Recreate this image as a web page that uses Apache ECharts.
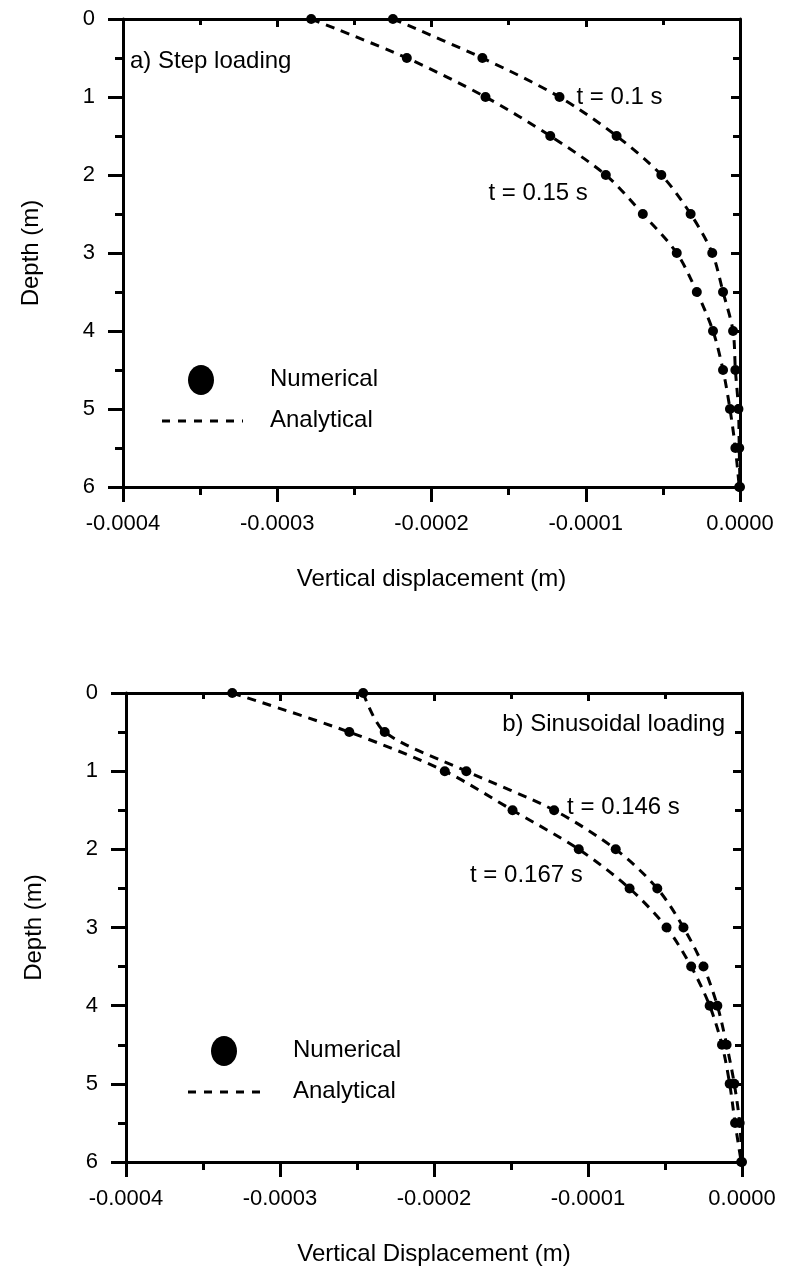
<!DOCTYPE html>
<html>
<head>
<meta charset="utf-8">
<script src="https://cdn.jsdelivr.net/npm/echarts@6/dist/echarts.min.js"></script>
<style>
  html, body { margin: 0; padding: 0; background: #fff; }
  #chart { width: 787px; height: 1278px; }
</style>
</head>
<body>
<div id="chart"></div>
<script>
// depth of the sample points (m)
var depth = [0, 0.5, 1, 1.5, 2, 2.5, 3, 3.5, 4, 4.5, 5, 5.5, 6];

// a) step loading, vertical displacement (m)
var stepT010 = [-2.25e-4, -1.67e-4, -1.17e-4, -0.80e-4, -0.51e-4, -0.32e-4, -0.18e-4, -0.11e-4, -0.045e-4, -0.03e-4, -0.01e-4, -0.005e-4, 0];
var stepT015 = [-2.78e-4, -2.16e-4, -1.65e-4, -1.23e-4, -0.87e-4, -0.63e-4, -0.41e-4, -0.28e-4, -0.175e-4, -0.11e-4, -0.065e-4, -0.03e-4, -0.005e-4];

// b) sinusoidal loading
var sinT0146 = [-2.46e-4, -2.32e-4, -1.79e-4, -1.22e-4, -0.82e-4, -0.55e-4, -0.38e-4, -0.25e-4, -0.16e-4, -0.10e-4, -0.05e-4, -0.015e-4, 0];
var sinT0167 = [-3.31e-4, -2.55e-4, -1.93e-4, -1.49e-4, -1.06e-4, -0.73e-4, -0.49e-4, -0.33e-4, -0.21e-4, -0.13e-4, -0.08e-4, -0.045e-4, -0.005e-4];

// axis ticks
var xTicks = [-0.0004, -0.0003, -0.0002, -0.0001, 0];
var yTicks = [0, 1, 2, 3, 4, 5, 6];

var FONT = 'Liberation Sans, Arial, sans-serif';
var BLACK = '#000';
var TXT = 24;   // names, notes, legend
var TICK = 22;  // tick labels

function pairs(xs) {
  return xs.map(function (v, i) { return [v, depth[i]]; });
}

// numerical points, one of them carries the time label
function points(xs, labelIdx, text, pos, align) {
  var d = pairs(xs);
  d[labelIdx] = {
    value: d[labelIdx],
    label: { show: true, formatter: text, position: pos, align: align, verticalAlign: 'middle',
      color: BLACK, opacity: 1, fontSize: TXT, fontFamily: FONT }
  };
  return d;
}

function xAxes(g, name) {
  var lineSt = { color: BLACK, width: 3 };
  return [{
    gridIndex: g, type: 'value', position: 'bottom',
    min: xTicks[0], max: xTicks[xTicks.length - 1], interval: 0.0001,
    name: name, nameLocation: 'middle', nameGap: 80,
    nameTextStyle: { color: BLACK, fontSize: TXT, fontFamily: FONT },
    axisLine: { onZero: false, lineStyle: lineSt },
    axisTick: { length: 15, lineStyle: lineSt },
    minorTick: { show: true, splitNumber: 2, length: 8, lineStyle: lineSt },
    axisLabel: { margin: 26, color: BLACK, fontSize: TICK, fontFamily: FONT,
      formatter: function (v) { return v.toFixed(4); } },
    splitLine: { show: false }
  }, {
    gridIndex: g, type: 'value', position: 'top',
    min: xTicks[0], max: xTicks[xTicks.length - 1], interval: 0.0001,
    axisLine: { onZero: false, lineStyle: lineSt },
    axisTick: { inside: true, length: 8, lineStyle: lineSt },
    minorTick: { show: true, splitNumber: 2, length: 6, lineStyle: lineSt },
    axisLabel: { show: false },
    splitLine: { show: false }
  }];
}

function yAxes(g) {
  var lineSt = { color: BLACK, width: 3 };
  return [{
    gridIndex: g, type: 'value', position: 'left', inverse: true,
    min: yTicks[0], max: yTicks[yTicks.length - 1], interval: 1,
    name: 'Depth (m)', nameLocation: 'middle', nameGap: 80, nameRotate: 90,
    nameTextStyle: { color: BLACK, fontSize: TXT, fontFamily: FONT },
    axisLine: { onZero: false, lineStyle: lineSt },
    axisTick: { length: 15, lineStyle: lineSt },
    minorTick: { show: true, splitNumber: 2, length: 8, lineStyle: lineSt },
    axisLabel: { margin: 28, color: BLACK, fontSize: TICK, fontFamily: FONT },
    splitLine: { show: false }
  }, {
    gridIndex: g, type: 'value', position: 'right', inverse: true,
    min: yTicks[0], max: yTicks[yTicks.length - 1], interval: 1,
    axisLine: { onZero: false, lineStyle: lineSt },
    axisTick: { inside: true, length: 9, lineStyle: lineSt },
    minorTick: { show: true, splitNumber: 2, length: 7, lineStyle: lineSt },
    axisLabel: { show: false },
    splitLine: { show: false }
  }];
}

function analytical(name, xs, g) {
  return {
    name: name, type: 'line', xAxisIndex: g * 2, yAxisIndex: g * 2,
    data: pairs(xs), smooth: 0.3, showSymbol: false, silent: true,
    lineStyle: { color: BLACK, width: 3, type: [9, 7] }, z: 2
  };
}

function numerical(name, data, g) {
  return {
    name: name, type: 'scatter', xAxisIndex: g * 2, yAxisIndex: g * 2,
    data: data, symbol: 'circle', symbolSize: 10,
    itemStyle: { color: BLACK, opacity: 1 }, z: 3
  };
}

function legendBox(x, y, dashFrom, dashTo, textX) {
  var st = { fill: BLACK, fontSize: TXT, fontFamily: FONT };
  return [
    { type: 'ellipse', shape: { cx: x, cy: y, rx: 13, ry: 15 }, style: { fill: BLACK } },
    { type: 'line', shape: { x1: dashFrom, y1: y + 41, x2: dashTo, y2: y + 41 },
      style: { stroke: BLACK, lineWidth: 3, lineDash: [8, 8] } },
    { type: 'text', left: textX, top: y - 13, style: Object.assign({ text: 'Numerical' }, st) },
    { type: 'text', left: textX, top: y + 28, style: Object.assign({ text: 'Analytical' }, st) }
  ];
}

var myChart = echarts.init(document.getElementById('chart'));

var option = {
  backgroundColor: '#fff',
  animation: false,
  grid: [
    { left: 123, top: 19, width: 617, height: 468, containLabel: false },
    { left: 126, top: 693, width: 616, height: 469, containLabel: false }
  ],
  xAxis: xAxes(0, 'Vertical displacement (m)').concat(xAxes(1, 'Vertical Displacement (m)')),
  yAxis: yAxes(0).concat(yAxes(1)),
  series: [
    analytical('Analytical t = 0.1 s', stepT010, 0),
    analytical('Analytical t = 0.15 s', stepT015, 0),
    numerical('Numerical t = 0.1 s', points(stepT010, 2, 't = 0.1 s', [22, 5], 'left'), 0),
    numerical('Numerical t = 0.15 s', points(stepT015, 4, 't = 0.15 s', [-13, 23], 'right'), 0),
    analytical('Analytical t = 0.146 s', sinT0146, 1),
    analytical('Analytical t = 0.167 s', sinT0167, 1),
    numerical('Numerical t = 0.146 s', points(sinT0146, 3, 't = 0.146 s', [18, 2], 'left'), 1),
    numerical('Numerical t = 0.167 s', points(sinT0167, 4, 't = 0.167 s', [9, 31], 'right'), 1)
  ],
  graphic: [
    { type: 'text', left: 130, top: 49, style: { text: 'a) Step loading', fill: BLACK, fontSize: TXT, fontFamily: FONT } },
    { type: 'text', right: 62, top: 712, style: { text: 'b) Sinusoidal loading', fill: BLACK, fontSize: TXT, fontFamily: FONT } }
  ].concat(legendBox(201, 380, 162, 243, 270)).concat(legendBox(224, 1051, 188, 265, 293))
};

myChart.setOption(option);
</script>
</body>
</html>
